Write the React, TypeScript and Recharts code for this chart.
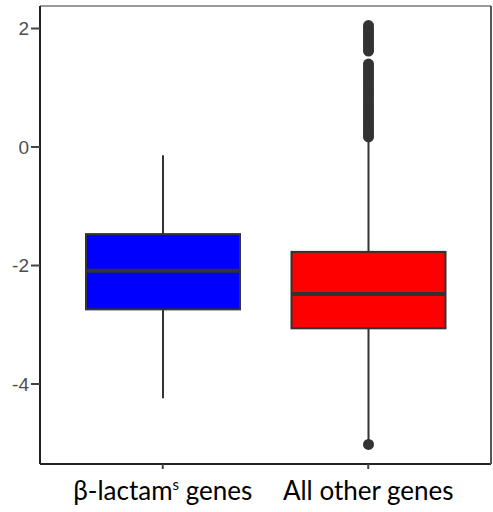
import { ComposedChart, Bar, XAxis, YAxis, ReferenceLine } from "recharts";

const categories = ["β-lactam", "All other genes"];
const whiskerLow = [-4.24, -4.95];
const whiskerHigh = [-0.14, 0.12];
const q1 = [-2.74, -3.06];
const median = [-2.09, -2.48];
const q3 = [-1.47, -1.77];
const fills = ["#0000FF", "#FF0000"];
const outliers = [
  [],
  [
    -5.02, 2.05, 2.0, 1.95, 1.9, 1.85, 1.8, 1.75, 1.7, 1.66, 1.62,
    1.4, 1.35, 1.3, 1.25, 1.2, 1.15, 1.1, 1.05, 1.0, 0.95, 0.9, 0.85, 0.8,
    0.75, 0.7, 0.65, 0.6, 0.55, 0.5, 0.45, 0.4, 0.35, 0.3, 0.25, 0.2, 0.17,
  ],
];
const yTicks = [-4, -2, 0, 2];

const data = categories.map((name, i) => ({
  name,
  range: [whiskerLow[i], whiskerHigh[i]],
  lo: whiskerLow[i],
  hi: whiskerHigh[i],
  q1: q1[i],
  median: median[i],
  q3: q3[i],
  fill: fills[i],
  outliers: outliers[i],
}));

const BoxShape = (props: any) => {
  const { x, y, width, height, payload } = props;
  const top = Math.min(y, y + height);
  const bottom = Math.max(y, y + height);
  const { lo, hi } = payload;
  const py = (v: number) => top + ((hi - v) / (hi - lo)) * (bottom - top);
  const cx = x + width / 2;
  return (
    <g>
      <line x1={cx} x2={cx} y1={py(hi)} y2={py(lo)} stroke="#333" strokeWidth={2} />
      <rect
        x={x}
        y={py(payload.q3)}
        width={width}
        height={py(payload.q1) - py(payload.q3)}
        fill={payload.fill}
        stroke="#333"
        strokeWidth={2}
      />
      <line
        x1={x}
        x2={x + width}
        y1={py(payload.median)}
        y2={py(payload.median)}
        stroke="#333"
        strokeWidth={4}
      />
      {payload.outliers.map((v: number, i: number) => (
        <circle key={i} cx={cx} cy={py(v)} r={5.5} fill="#333" />
      ))}
    </g>
  );
};

const XTick = (props: any) => {
  const { x, y, payload } = props;
  const style = { fontFamily: "Lato, sans-serif", fontSize: 26, fill: "#000" };
  if (payload.value === "β-lactam") {
    return (
      <text x={x} y={y + 29} textAnchor="middle" {...style}>
        β-lactam
        <tspan fontSize={15} dy={-10}>s</tspan>
        <tspan dy={10}> genes</tspan>
      </text>
    );
  }
  return (
    <text x={x} y={y + 29} textAnchor="middle" {...style}>
      {payload.value}
    </text>
  );
};

export default function App() {
  return (
    <div style={{ position: "absolute", left: 0, top: 0, background: "#fff" }}>
      <ComposedChart
        width={493}
        height={512}
        data={data}
        margin={{ top: 6, right: 2, bottom: 0, left: 0 }}
      >
        <XAxis
          dataKey="name"
          padding={{ left: 20, right: 20 }}
          height={48}
          tick={<XTick />}
          tickSize={5}
          axisLine={{ stroke: "#222", strokeWidth: 2 }}
          tickLine={{ stroke: "#444", strokeWidth: 2 }}
          interval={0}
        />
        <YAxis
          type="number"
          domain={[-5.35, 2.38]}
          ticks={yTicks}
          width={40}
          tickSize={9}
          tickMargin={2}
          allowDataOverflow
          tick={{ fontFamily: "Liberation Sans, Arial, sans-serif", fontSize: 19, fill: "#4d4d4d" }}
          axisLine={{ stroke: "#222", strokeWidth: 2 }}
          tickLine={{ stroke: "#444", strokeWidth: 2 }}
        />
        <ReferenceLine y={2.38} stroke="#999" strokeWidth={2} />
        <Bar dataKey="range" barSize={154} shape={<BoxShape />} isAnimationActive={false} />
      </ComposedChart>
      <div
        style={{
          position: "absolute",
          left: 490,
          top: 6,
          width: 1.5,
          height: 458,
          background: "#555",
        }}
      />
    </div>
  );
}
